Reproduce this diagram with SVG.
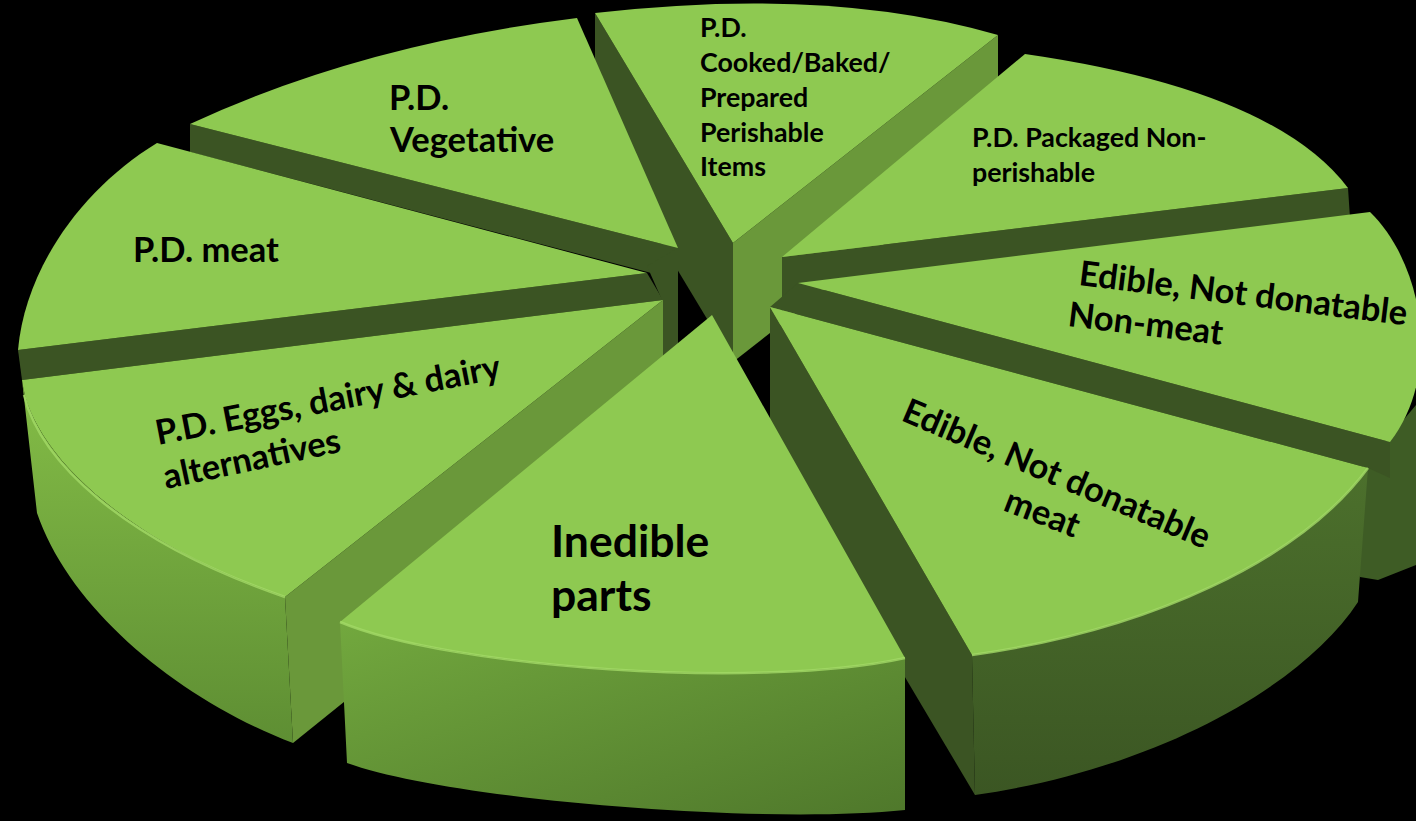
<svg xmlns="http://www.w3.org/2000/svg" width="1416" height="821" viewBox="0 0 1416 821">
<defs>
<linearGradient id="rimLight" x1="0" y1="0" x2="0" y2="1"><stop offset="0" stop-color="#84bd47"/><stop offset="1" stop-color="#5e8e33"/></linearGradient>
<linearGradient id="rimFront" x1="0" y1="0" x2="1" y2="1"><stop offset="0" stop-color="#72a83e"/><stop offset="1" stop-color="#4f782b"/></linearGradient>
<linearGradient id="rimDark" x1="0" y1="0" x2="0" y2="1"><stop offset="0" stop-color="#4c702c"/><stop offset="1" stop-color="#3b5623"/></linearGradient>
<style>
.top{fill:#8ec951}
.dark{fill:#3b5423}
.mid{fill:#6a983a}
.hl{fill:none;stroke:#a3da66;stroke-width:2.5;stroke-opacity:0.8}
.t{font-family:Lato,"Liberation Sans",sans-serif;font-weight:bold;fill:#000}
</style>
</defs>
<rect width="1416" height="821" fill="#000"/>
<g id="slice-cooked">
<path class="dark" d="M595,13 L733,243 L733,362 L595,133 Z"/>
<path class="mid" d="M733,243 L998,35 L998,155 L733,362 Z"/>
<path class="top" d="M595,13 Q830,-14 998,35 L733,243 Z"/>
<text class="t" font-size="26.8"><tspan x="700" y="37">P.D.</tspan><tspan x="700" y="72">Cooked/Baked/</tspan><tspan x="700" y="107">Prepared</tspan><tspan x="700" y="142">Perishable</tspan><tspan x="700" y="176">Items</tspan></text>
</g>
<g id="slice-vegetative">
<path class="dark" d="M190,124 L678,248 L678,280 L190,152 Z"/>
<path class="top" d="M190,124 Q360,45 577,18 L678,248 Z"/>
<text class="t" font-size="34.5"><tspan x="389" y="110">P.D.</tspan><tspan x="390" y="152">Vegetative</tspan></text>
</g>
<g id="slice-packaged">
<path class="dark" d="M782,257 L1348,188 L1350,218 L800,292 L782,312 Z"/>
<path class="top" d="M782,257 L1025,54 Q1274,90 1348,188 Z"/>
<text class="t" font-size="26.8"><tspan x="972" y="147">P.D. Packaged Non-</tspan><tspan x="972" y="182">perishable</tspan></text>
</g>
<g id="slice-meat">
<path class="dark" d="M18,350 L647,273 L663,300 L22,380 Z"/>
<path class="dark" d="M647,266 L678,248 L678,372 L662,380 L662,300 Z"/>
<path class="top" d="M647,273 L157,143 C80,190 25,270 18,350 Z"/>
<text class="t" font-size="34.5" x="133" y="262">P.D. meat</text>
</g>
<g id="slice-nonmeat">
<path fill="#3e5c25" d="M1385,442 L1416,405 L1416,565 L1378,580 L1360,577 L1360,470 Z"/>
<path class="dark" d="M798,283 L1390,442 L1390,478 L1368,468 L770,307 Z"/>
<path class="top" d="M798,283 L1370,212 C1420,260 1445,370 1390,442 Z"/>
<text class="t" font-size="34.5" transform="rotate(7 1078 285)"><tspan x="1078" y="285">Edible, Not donatable</tspan><tspan x="1072" y="327">Non-meat</tspan></text>
</g>
<g id="slice-eggs">
<path class="mid" d="M663,300 L285,597 L293,743 L663,445 Z"/>
<path fill="url(#rimLight)" d="M22,380 C30,450 120,540 285,597 L293,743 C180,700 70,610 37,513 Z"/>
<path class="top" d="M663,300 L22,380 C30,450 120,540 285,597 Z"/>
<path class="hl" d="M24,395 C40,460 120,540 285,597"/>
<text class="t" font-size="34.5" transform="rotate(-11 158 445)" x="158" y="445">P.D. Eggs, dairy &amp; dairy</text>
<text class="t" font-size="34.5" transform="rotate(-12 166 489)" x="166" y="489">alternatives</text>
</g>
<g id="slice-edible-meat">
<path class="dark" d="M770,307 L972,655 L975,795 L770,450 Z"/>
<path fill="url(#rimDark)" d="M1368,468 C1300,560 1150,630 972,655 L975,795 C1150,770 1300,690 1358,602 Z"/>
<path class="top" d="M770,307 L1368,468 C1300,560 1150,630 972,655 Z"/>
<path class="hl" d="M1368,468 C1300,560 1150,630 972,655" stroke-opacity="0.5"/>
<text class="t" font-size="34.5" transform="rotate(23 900 420)" x="900" y="420">Edible, Not donatable</text>
<text class="t" font-size="34.5" transform="rotate(21 1002 510)" x="1002" y="510">meat</text>
</g>
<g id="slice-inedible">
<path fill="url(#rimFront)" d="M340,622 C450,668 760,690 905,658 L905,810 C760,825 450,800 347,763 Z"/>
<path class="top" d="M712,315 L905,658 C760,690 450,668 340,622 Z"/>
<path class="hl" d="M340,622 C450,668 760,690 905,658"/>
<text class="t" font-size="44.5"><tspan x="551" y="557">Inedible</tspan><tspan x="551" y="611">parts</tspan></text>
</g>
<g id="connectors"/>
</svg>
